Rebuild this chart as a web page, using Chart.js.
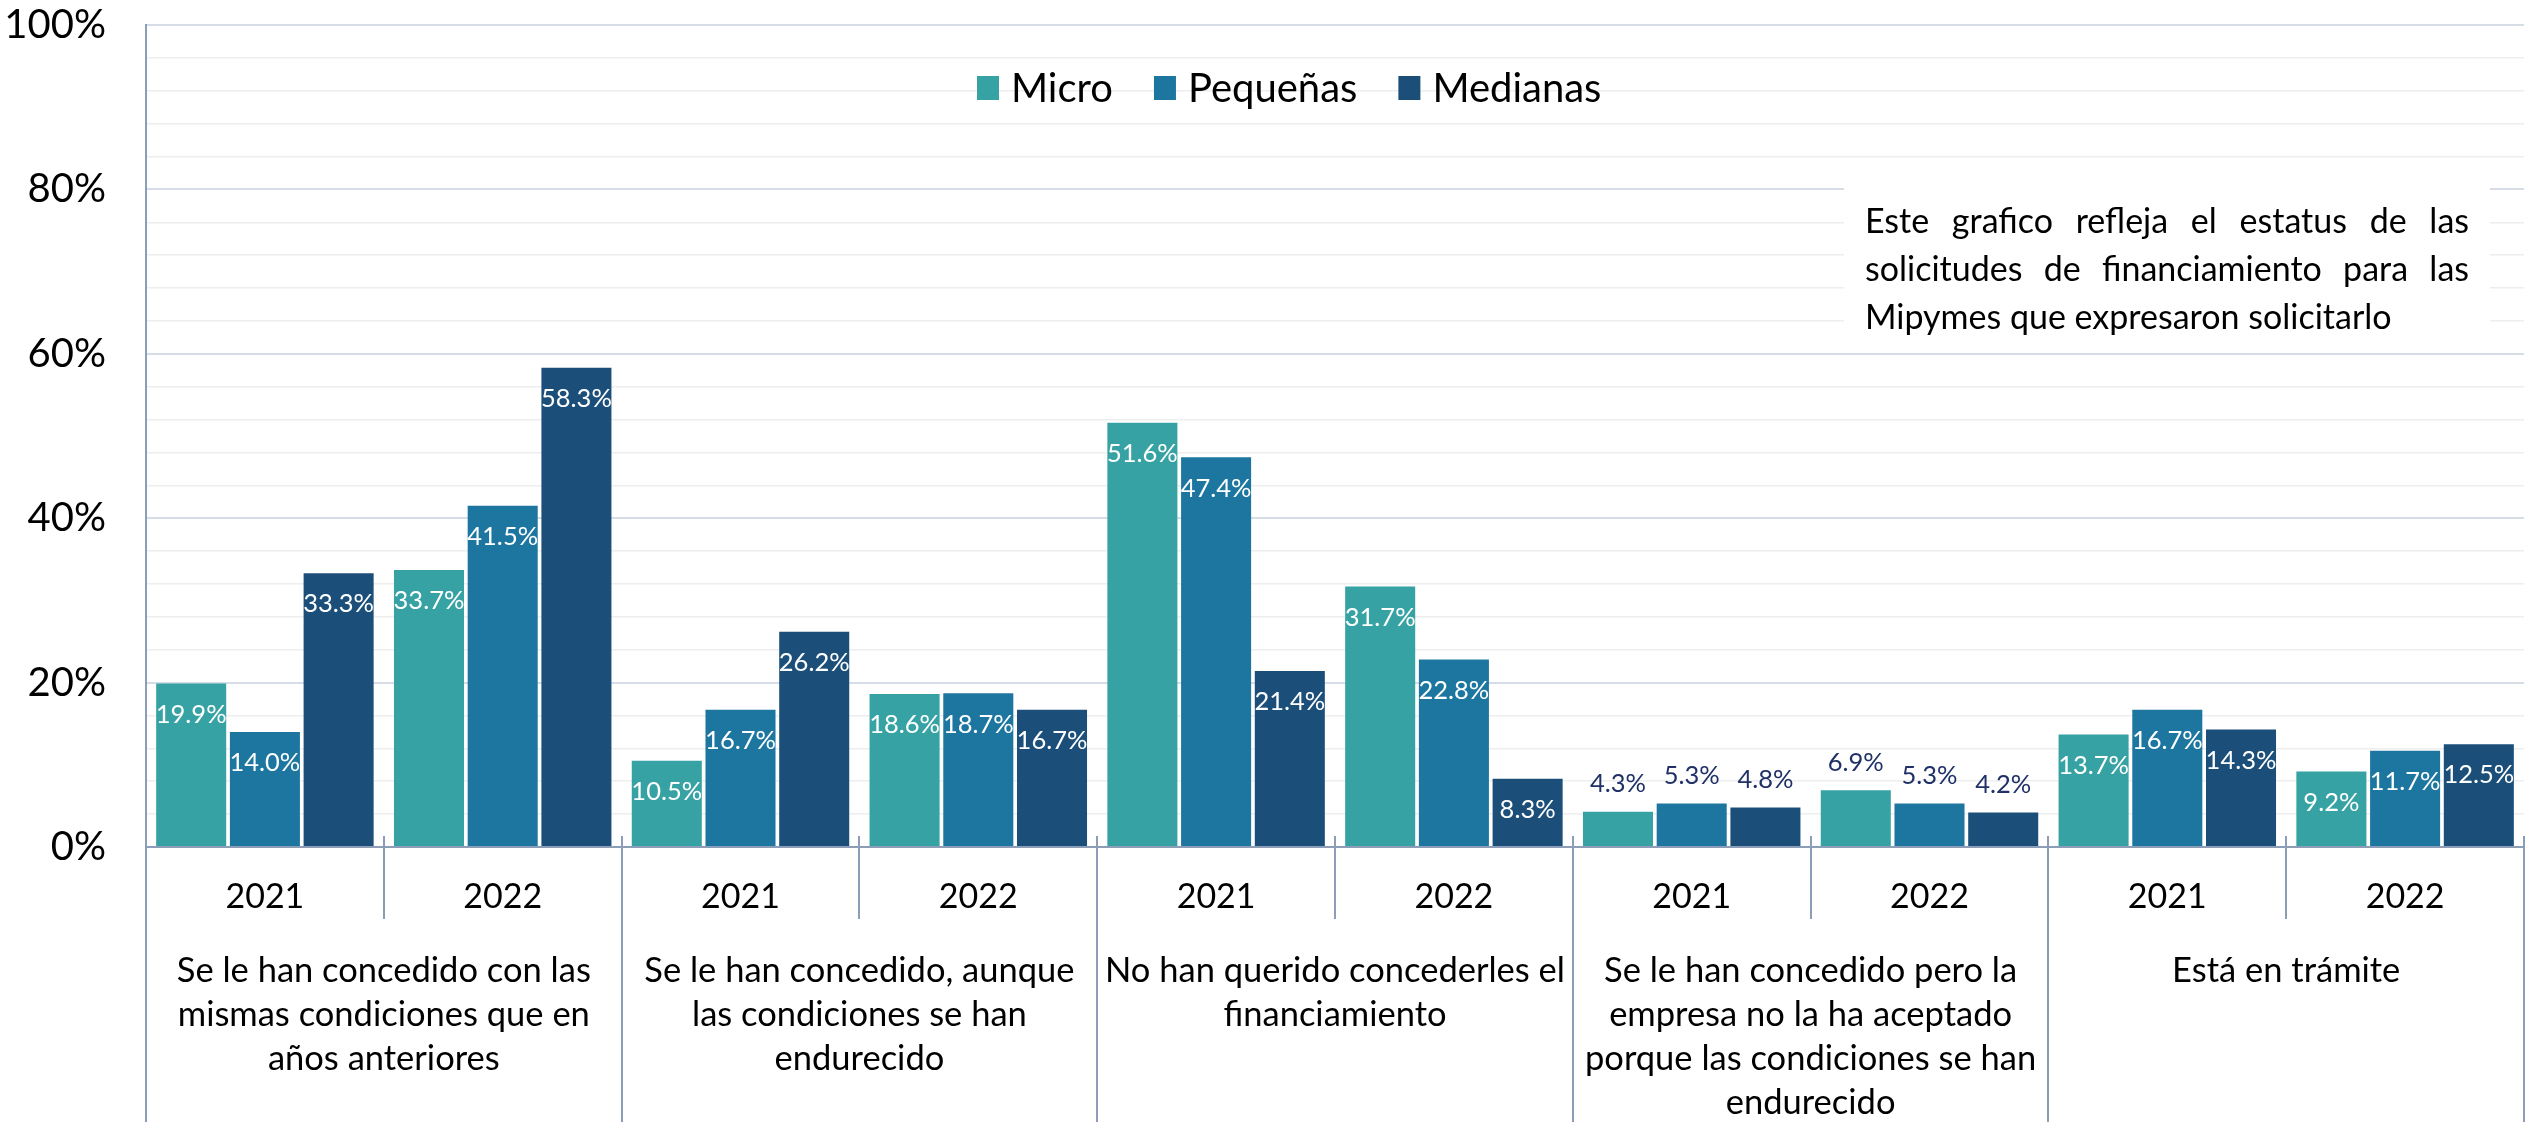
<!DOCTYPE html>
<html lang="es">
<head>
<meta charset="utf-8">
<title>Estatus de las solicitudes de financiamiento</title>
<script src="https://cdn.jsdelivr.net/npm/chart.js@4.4.1/dist/chart.umd.min.js"></script>
<style>
  html, body { margin: 0; padding: 0; background: #fff; }
  #wrap { width: 2526px; height: 1122px; position: relative; }
</style>
</head>
<body>
<div id="wrap"><canvas id="chart"></canvas></div>
<script>
'use strict';

// ── Data ──────────────────────────────────────────────────────
const categories = [
  ['Se le han concedido con las', 'mismas condiciones que en', 'años anteriores'],
  ['Se le han concedido, aunque', 'las condiciones se han', 'endurecido'],
  ['No han querido concederles el', 'financiamiento'],
  ['Se le han concedido pero la', 'empresa no la ha aceptado', 'porque las condiciones se han', 'endurecido'],
  ['Está en trámite'],
];
const years = ['2021', '2022'];

const seriesNames = ['Micro', 'Pequeñas', 'Medianas'];
// one value per (category, year), in the order of the x axis
const micro    = [19.9, 33.7, 10.5, 18.6, 51.6, 31.7, 4.3, 6.9, 13.7, 9.2];
const pequenas = [14.0, 41.5, 16.7, 18.7, 47.4, 22.8, 5.3, 5.3, 16.7, 11.7];
const medianas = [33.3, 58.3, 26.2, 16.7, 21.4,  8.3, 4.8, 4.2, 14.3, 12.5];

const yMax = 100;
const yStep = 4;        // minor gridlines
const yLabelStep = 20;  // labelled gridlines

const noteLines = [
  'Este grafico refleja el estatus de las',
  'solicitudes de financiamiento para las',
  'Mipymes que expresaron solicitarlo',
];

// ── Style ─────────────────────────────────────────────────────
const FONT = 'Lato';
const colors = ['#36A2A4', '#1C76A0', '#1B4F79'];
const AXIS = '#8C9DB8';
const GRID_MAJOR = '#D6DDE7';
const GRID_MINOR = '#EEEEEE';
const LABEL_DARK = '#1F3167';

const yearLabels = categories.flatMap(() => years);

// ── Plugins ───────────────────────────────────────────────────
const separators = {
  id: 'separators',
  afterDraw(chart) {
    const { ctx, chartArea, height } = chart;
    const x = chart.scales.x;
    const step = x.getPixelForValue(1) - x.getPixelForValue(0);
    ctx.save();
    ctx.strokeStyle = AXIS;
    ctx.lineWidth = 2;
    for (let i = 0; i <= yearLabels.length; i++) {
      const px = Math.round(x.getPixelForValue(i) - step / 2);
      const bottom = (i % years.length === 0) ? height : chartArea.bottom + 72;
      ctx.beginPath();
      ctx.moveTo(px, chartArea.bottom - 11);
      ctx.lineTo(px, bottom);
      ctx.stroke();
    }
    ctx.restore();
  }
};

const barLabels = {
  id: 'barLabels',
  afterDatasetsDraw(chart) {
    const { ctx } = chart;
    ctx.save();
    ctx.font = `25.5px ${FONT}`;
    ctx.textAlign = 'center';
    ctx.textBaseline = 'middle';
    chart.data.datasets.forEach((ds, di) => {
      chart.getDatasetMeta(di).data.forEach((bar, i) => {
        const v = ds.data[i];
        const txt = v.toFixed(1) + '%';
        if (v >= 8) {
          ctx.fillStyle = '#FFFFFF';
          ctx.fillText(txt, bar.x, bar.y + 31);
        } else {
          ctx.fillStyle = LABEL_DARK;
          ctx.fillText(txt, bar.x, bar.y - 28);
        }
      });
    });
    ctx.restore();
  }
};

const legendBar = {
  id: 'legendBar',
  afterDraw(chart) {
    const { ctx, chartArea } = chart;
    ctx.save();
    ctx.font = `40px ${FONT}`;
    ctx.textBaseline = 'middle';
    ctx.textAlign = 'left';
    let x = chartArea.left + 831;
    const cy = chartArea.top + 63;
    chart.data.datasets.forEach(ds => {
      ctx.fillStyle = ds.backgroundColor;
      ctx.fillRect(x, cy - 12, 22, 24);
      ctx.fillStyle = '#000';
      ctx.fillText(ds.label, x + 34, cy + 1);
      x += 34 + ctx.measureText(ds.label).width + 41;
    });
    ctx.restore();
  }
};

const noteBox = {
  id: 'noteBox',
  beforeDatasetsDraw(chart) {
    const { ctx, chartArea } = chart;
    const left = chartArea.right - 680;
    const top = chartArea.top + 160;
    ctx.save();
    ctx.fillStyle = '#FFFFFF';
    ctx.fillRect(left, top, 646, 160);
    ctx.font = `34px ${FONT}`;
    ctx.fillStyle = '#000';
    ctx.textBaseline = 'middle';
    const tx = left + 21, tw = 604;
    noteLines.forEach((line, li) => {
      const y = top + 37 + li * 48;
      const words = line.split(' ');
      if (li === noteLines.length - 1) {
        ctx.fillText(line, tx, y);
        return;
      }
      const widths = words.map(w => ctx.measureText(w).width);
      const gap = (tw - widths.reduce((a, b) => a + b, 0)) / (words.length - 1);
      let x = tx;
      words.forEach((w, wi) => {
        ctx.fillText(w, x, y);
        x += widths[wi] + gap;
      });
    });
    ctx.restore();
  }
};

// ── Chart ─────────────────────────────────────────────────────
new Chart(document.getElementById('chart'), {
  type: 'bar',
  data: {
    labels: yearLabels,
    datasets: [micro, pequenas, medianas].map((d, i) => ({
      label: seriesNames[i],
      data: d,
      backgroundColor: colors[i],
      borderWidth: 0,
      categoryPercentage: 0.93,
      barPercentage: 0.95,
    })),
  },
  options: {
    responsive: true,
    maintainAspectRatio: false,
    animation: false,
    layout: { padding: { top: 25, right: 2, left: 0, bottom: 0 } },
    plugins: {
      legend: { display: false },
      tooltip: { enabled: false },
    },
    scales: {
      x: {
        weight: 0,
        offset: true,
        grid: { display: false, drawTicks: false },
        border: { color: AXIS, width: 2 },
        ticks: {
          color: '#000', autoSkip: false, maxRotation: 0, minRotation: 0,
          font: { family: FONT, size: 34 }, padding: 30,
        },
        afterFit(s) { s.height = 100; s.paddingLeft = 0; s.paddingRight = 0; },
      },
      x2: {
        type: 'category',
        position: 'bottom',
        weight: 1,
        labels: categories,
        offset: true,
        grid: { display: false, drawTicks: false },
        border: { display: false },
        ticks: {
          color: '#000', autoSkip: false, maxRotation: 0, minRotation: 0,
          font: { family: FONT, size: 34.5, lineHeight: '44px' }, padding: 2,
        },
        afterFit(s) { s.height = 175; s.paddingLeft = 0; s.paddingRight = 0; },
      },
      y: {
        min: 0,
        max: yMax,
        grid: {
          drawTicks: false,
          color: c => (c.tick.value % yLabelStep === 0 ? GRID_MAJOR : GRID_MINOR),
          lineWidth: c => (c.tick.value % yLabelStep === 0 ? 2 : 1.5),
        },
        border: { color: AXIS, width: 2 },
        ticks: {
          stepSize: yStep,
          autoSkip: false,
          color: '#000',
          padding: 40,
          font: { family: FONT, size: 40 },
          callback: v => (v % yLabelStep === 0 ? v + '%' : ''),
        },
        afterFit(s) { s.width = 146; s.paddingTop = 0; s.paddingBottom = 0; },
      },
    },
  },
  plugins: [separators, noteBox, barLabels, legendBar],
});
</script>
</body>
</html>
